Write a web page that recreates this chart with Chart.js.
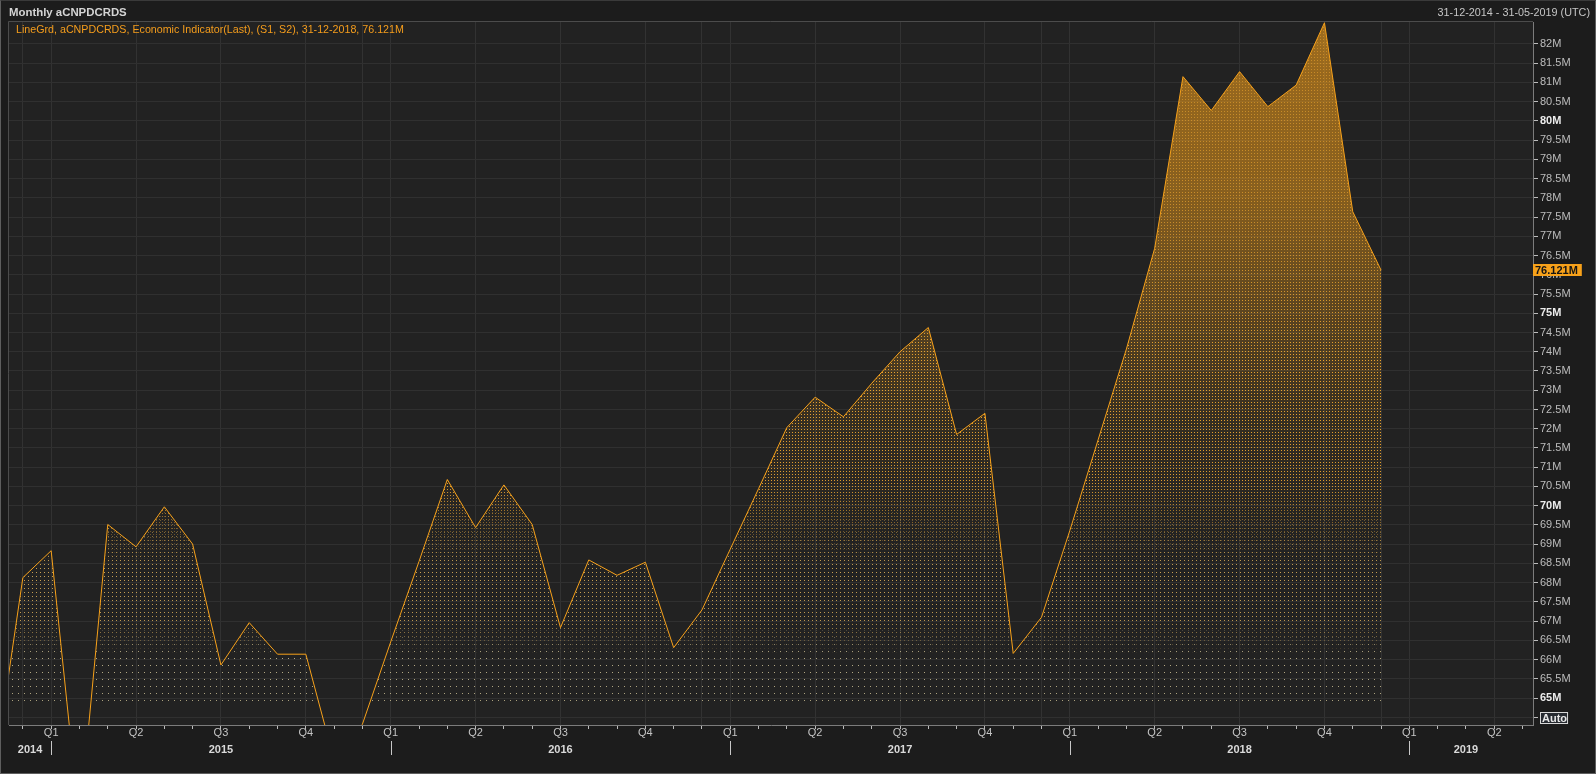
<!DOCTYPE html>
<html>
<head>
<meta charset="utf-8">
<title>Monthly aCNPDCRDS</title>
<script src="https://cdn.jsdelivr.net/npm/chart.js@4.4.1/dist/chart.umd.min.js"></script>
<style>
  html, body { margin: 0; padding: 0; background: #1c1c1c; overflow: hidden; }
  #wrap { position: relative; width: 1596px; height: 774px; }
  #chart { position: absolute; left: 0; top: 0; }
  .txt { position: absolute; font-family: 'Liberation Sans', Arial, sans-serif; white-space: nowrap; }
  #title { left: 9px; top: 5px; font-size: 11.4px; font-weight: bold; color: #d4d4d4; line-height: 14px; }
  #range { right: 6px; top: 6px; font-size: 10.8px; color: #c6c6c6; line-height: 13px; }
  #legend { left: 16px; top: 23px; font-size: 10.7px; color: #f59d1c; line-height: 13px; }
  #edge { position: absolute; left: 0; top: 0; right: 0; bottom: 0; border: 1px solid #5e5e5e; border-top-color: #3a3a3a; pointer-events: none; }
</style>
</head>
<body>
<div id="wrap">
  <canvas id="chart" width="1596" height="774"></canvas>
  <div id="title" class="txt">Monthly aCNPDCRDS</div>
  <div id="range" class="txt"></div>
  <div id="legend" class="txt"></div>
  <div id="edge"></div>
</div>
<script>
// monthly values, millions (Nov 2014 sits just left of the visible range)
const months = [
  '2014-11', '2014-12',
  '2015-01', '2015-02', '2015-03', '2015-04', '2015-05', '2015-06',
  '2015-07', '2015-08', '2015-09', '2015-10', '2015-11', '2015-12',
  '2016-01', '2016-02', '2016-03', '2016-04', '2016-05', '2016-06',
  '2016-07', '2016-08', '2016-09', '2016-10', '2016-11', '2016-12',
  '2017-01', '2017-02', '2017-03', '2017-04', '2017-05', '2017-06',
  '2017-07', '2017-08', '2017-09', '2017-10', '2017-11', '2017-12',
  '2018-01', '2018-02', '2018-03', '2018-04', '2018-05', '2018-06',
  '2018-07', '2018-08', '2018-09', '2018-10', '2018-11', '2018-12'
];
const valuesM = [
  63.12, 68.13,
  68.83, 61.75, 69.51, 68.93, 69.97, 69.00, 65.86, 66.96, 66.14, 66.14, 63.39, 64.32,
  66.46, 68.55, 70.68, 69.43, 70.54, 69.51, 66.83, 68.59, 68.19, 68.53, 66.31, 67.29,
  68.87, 70.44, 72.03, 72.82, 72.31, 73.18, 74.00, 74.63, 71.85, 72.40, 66.16, 67.10,
  69.35, 71.71, 74.07, 76.69, 81.15, 80.27, 81.28, 80.37, 80.93, 82.55, 77.64, 76.121
];
const quarterNames = ['Q1', 'Q2', 'Q3', 'Q4'];
const yearNames = ['2014', '2015', '2016', '2017', '2018', '2019'];
const rangeText = '31-12-2014 - 31-05-2019 (UTC)';

const baseYear = 2015;          // month index 0 = Jan 2015
const xMin = -1.49, xMax = 52.37;
const yMin = 64.30, yMax = 82.57;
const yTickFrom = 64.5, yTickTo = 82, yTickStep = 0.5;
const fillFloor = 64.87;        // dotted fill stops here
const ORANGE = '#f7a11a';
const FONT = '"Liberation Sans", Arial, sans-serif';

Chart.defaults.font.family = FONT;
Chart.defaults.font.size = 11;

function monthIndex(s) {
  const [y, m] = s.split('-').map(Number);
  return (y - baseYear) * 12 + (m - 1);
}
function monthEnd(s) {
  const [y, m] = s.split('-').map(Number);
  const d = new Date(Date.UTC(y, m, 0)).getUTCDate();
  return String(d).padStart(2, '0') + '-' + String(m).padStart(2, '0') + '-' + y;
}
function monthOfYear(v) { return ((v % 12) + 12) % 12; }

const points = months.map((m, i) => ({ x: monthIndex(m), y: valuesM[i] }));
const lastValue = valuesM[valuesM.length - 1];

document.getElementById('range').textContent = rangeText;
document.getElementById('legend').textContent =
  'LineGrd, aCNPDCRDS, Economic Indicator(Last), (S1, S2), ' +
  monthEnd(months[months.length - 1]) + ', ' + lastValue.toFixed(3) + 'M';

// "LineGrd" fill: solid orange glow at the top, dot grids getting sparser
// towards the floor, each layer cross-faded into the next
const fillLayers = [
  { solid: true, col: '247,161,26', stops: [[0, 0.58], [0.25, 0.48], [0.45, 0.24], [0.6, 0.08], [0.75, 0], [1, 0]] },
  { sx: 3, sy: 3, col: '250,175,50', stops: [[0, 0.45], [0.3, 0.6], [0.5, 0.9], [0.68, 0.85], [0.8, 0], [1, 0]] },
  { sx: 4, sy: 4, col: '240,190,95', stops: [[0, 0], [0.68, 0], [0.8, 0.8], [0.88, 0.75], [0.93, 0], [1, 0]] },
  { sx: 6, sy: 7, col: '230,215,165', stops: [[0, 0], [0.88, 0], [0.93, 0.75], [1, 0.7]] }
];

function dotTile(sx, sy, col) {
  const t = document.createElement('canvas');
  t.width = sx; t.height = sy;
  const g = t.getContext('2d');
  g.fillStyle = col;
  g.fillRect(0, 0, 1, 1);
  return t;
}

function buildFill(chart) {
  const a = chart.chartArea;
  const top = Math.round(a.top), left = Math.round(a.left);
  const floorY = Math.round(chart.scales.y.getPixelForValue(fillFloor));
  const h = floorY - top, w = Math.round(a.width);
  const c = document.createElement('canvas');
  c.width = chart.width; c.height = chart.height;
  const g = c.getContext('2d');

  fillLayers.forEach(L => {
    const lc = document.createElement('canvas');
    lc.width = c.width; lc.height = c.height;
    const lg = lc.getContext('2d');
    lg.fillStyle = L.solid ? 'rgb(' + L.col + ')'
      : lg.createPattern(dotTile(L.sx, L.sy, 'rgb(' + L.col + ')'), 'repeat');
    lg.fillRect(left, top, w, h);
    lg.globalCompositeOperation = 'destination-in';
    const gr = lg.createLinearGradient(0, top, 0, floorY);
    L.stops.forEach(([t, al]) => gr.addColorStop(t, 'rgba(0,0,0,' + al + ')'));
    lg.fillStyle = gr;
    lg.fillRect(left, top, w, h);
    g.drawImage(lc, 0, 0);
  });
  return c;
}

let fillPattern = null;

const framePlugin = {
  id: 'frame',
  beforeDraw(chart) {
    const { ctx, chartArea: a } = chart;
    ctx.save();
    ctx.fillStyle = '#222222';
    ctx.fillRect(a.left, a.top, a.right - a.left, a.bottom - a.top);
    ctx.strokeStyle = '#4c4c4c';
    ctx.lineWidth = 1;
    ctx.beginPath();
    ctx.moveTo(a.left - 0.5, a.bottom);
    ctx.lineTo(a.left - 0.5, a.top - 0.5);
    ctx.lineTo(a.right, a.top - 0.5);
    ctx.stroke();
    ctx.restore();
  }
};

const axisExtrasPlugin = {
  id: 'axisExtras',
  afterDraw(chart) {
    const { ctx, chartArea: a, scales: { x, y } } = chart;
    ctx.save();
    ctx.lineWidth = 1;

    // year names under the quarters, separators at each January
    ctx.font = 'bold 11px ' + FONT;
    ctx.textAlign = 'center';
    ctx.textBaseline = 'middle';
    const lastTick = Math.floor(xMax);
    yearNames.forEach(name => {
      const start = (Number(name) - baseYear) * 12;
      const from = Math.max(start, xMin), to = Math.min(start + 12, lastTick);
      if (to <= from) return;
      const cx = (x.getPixelForValue(from) + x.getPixelForValue(to)) / 2;
      ctx.fillStyle = '#dadada';
      ctx.fillText(name, cx, 750);
      if (start >= xMin) {
        const px = Math.round(x.getPixelForValue(start)) + 0.5;
        ctx.strokeStyle = '#c8c8c8';
        ctx.beginPath();
        ctx.moveTo(px, 741);
        ctx.lineTo(px, 755);
        ctx.stroke();
      }
    });

    // last value tag on the price axis
    const vy = Math.round(y.getPixelForValue(lastValue));
    const tag = lastValue.toFixed(3) + 'M';
    const tw = ctx.measureText(tag).width;
    ctx.fillStyle = ORANGE;
    ctx.fillRect(a.right, vy - 6, tw + 6, 12);
    ctx.fillStyle = '#141414';
    ctx.textAlign = 'left';
    ctx.fillText(tag, a.right + 2, vy + 0.5);

    // "Auto" button in place of the lowest tick label
    const ay = Math.round(y.getPixelForValue(yTickFrom)) + 1;
    const aw = ctx.measureText('Auto').width;
    ctx.fillStyle = '#262a30';
    ctx.fillRect(a.right + 7, ay - 6, aw + 3, 12);
    ctx.strokeStyle = '#d8d8d8';
    ctx.strokeRect(a.right + 7.5, ay - 5.5, aw + 2, 11);
    ctx.fillStyle = '#e8e8e8';
    ctx.fillText('Auto', a.right + 9, ay + 0.5);
    ctx.restore();
  }
};

new Chart(document.getElementById('chart'), {
  type: 'line',
  data: {
    datasets: [{
      label: 'aCNPDCRDS',
      data: points,
      borderColor: ORANGE,
      borderWidth: 1,
      pointRadius: 0,
      tension: 0,
      clip: 0,
      fill: 'start',
      backgroundColor: (ctx) => {
        const chart = ctx.chart;
        if (!chart.chartArea) return 'rgba(0,0,0,0)';
        if (!fillPattern) fillPattern = chart.ctx.createPattern(buildFill(chart), 'no-repeat');
        return fillPattern;
      }
    }]
  },
  options: {
    responsive: false,
    animation: false,
    events: [],
    layout: { padding: { left: 9, top: 22, right: 0, bottom: 0 } },
    plugins: { legend: { display: false }, tooltip: { enabled: false } },
    scales: {
      x: {
        type: 'linear',
        min: xMin,
        max: xMax,
        afterBuildTicks: (s) => {
          const t = [];
          for (let v = Math.ceil(xMin); v <= Math.floor(xMax); v++) t.push({ value: v });
          s.ticks = t;
        },
        afterFit: (s) => { s.height = 49; },
        border: { color: '#7c7c7c' },
        grid: {
          color: (c) => {
            const m = c.tick ? monthOfYear(c.tick.value) : 1;
            return (m % 3 === 0 || m === 11) ? '#323232' : 'rgba(0,0,0,0)';
          },
          tickColor: '#bdbdbd',
          tickLength: 4
        },
        ticks: {
          autoSkip: false,
          maxRotation: 0,
          minRotation: 0,
          padding: -3,
          color: '#c4c4c4',
          callback: (v) => {
            const m = monthOfYear(v);
            return m % 3 === 0 ? quarterNames[m / 3] : '';
          }
        }
      },
      y: {
        position: 'right',
        min: yMin,
        max: yMax,
        afterBuildTicks: (s) => {
          const t = [];
          for (let v = yTickFrom; v <= yTickTo + 1e-9; v += yTickStep) t.push({ value: Math.round(v * 10) / 10 });
          s.ticks = t;
        },
        afterFit: (s) => { s.width = 63; },
        border: { color: '#7c7c7c' },
        grid: { color: '#303030', tickColor: '#bdbdbd', tickLength: 5 },
        ticks: {
          autoSkip: false,
          padding: 2,
          color: (c) => (c.tick && c.tick.value % 5 === 0) ? '#ececec' : '#bdbdbd',
          font: (c) => ({ size: 11, weight: (c.tick && c.tick.value % 5 === 0) ? 'bold' : 'normal' }),
          callback: (v) => v === yTickFrom ? '' : (Number.isInteger(v) ? v : v.toFixed(1)) + 'M'
        }
      }
    }
  },
  plugins: [framePlugin, axisExtrasPlugin]
});
</script>
</body>
</html>
